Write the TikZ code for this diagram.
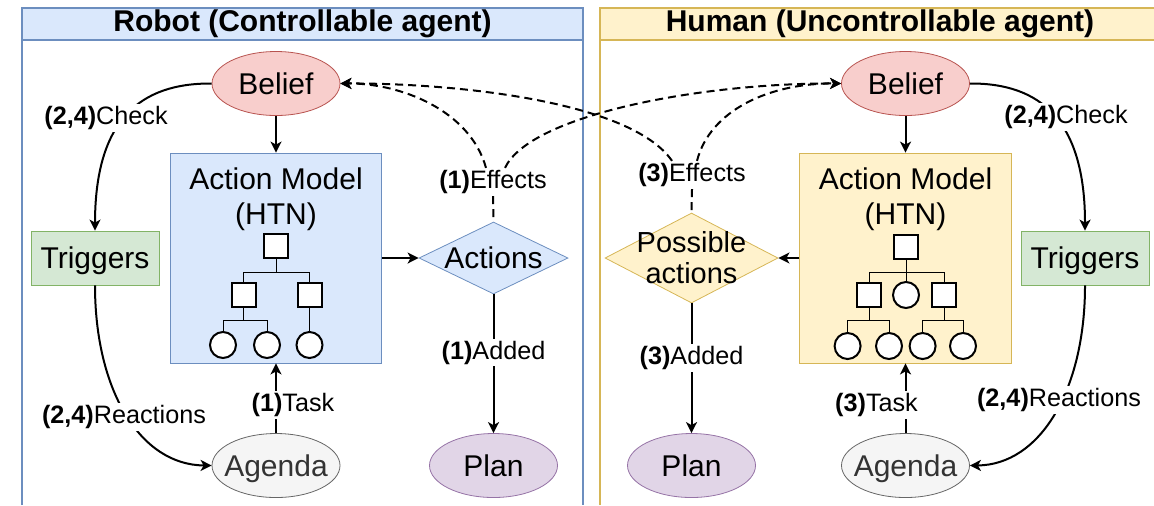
\documentclass[tikz,border=0pt]{standalone}
\usepackage{fontspec}
\setmainfont{Liberation Sans}
\usetikzlibrary{shapes.geometric, arrows.meta, positioning}

\definecolor{robotline}{HTML}{6C8EBF}
\definecolor{robotfill}{HTML}{DAE8FC}
\definecolor{humanline}{HTML}{D6B656}
\definecolor{humanfill}{HTML}{FFF2CC}
\definecolor{beliefline}{HTML}{B85450}
\definecolor{belieffill}{HTML}{F8CECC}
\definecolor{trigline}{HTML}{82B366}
\definecolor{trigfill}{HTML}{D5E8D4}
\definecolor{agendaline}{HTML}{666666}
\definecolor{agendafill}{HTML}{F5F5F5}
\definecolor{agendatext}{HTML}{333333}
\definecolor{planline}{HTML}{9673A6}
\definecolor{planfill}{HTML}{E1D5E7}

\begin{document}
\begin{tikzpicture}[
    x=0.5pt, y=0.5pt,
    every node/.style={font=\fontsize{15}{17.5}\selectfont},
    title/.style={font=\fontsize{15}{17.5}\selectfont\bfseries},
    boxtext/.style={text height=10.7pt, text depth=0pt},
    belief/.style={ellipse, boxtext, minimum width=64pt, minimum height=32pt, inner xsep=-4pt, draw=beliefline, fill=belieffill},
    trigger/.style={rectangle, boxtext, minimum width=64pt, minimum height=27pt, draw=trigline, fill=trigfill},
    agenda/.style={ellipse, boxtext, minimum width=64pt, minimum height=32pt, inner xsep=-4pt, draw=agendaline, fill=agendafill, text=agendatext},
    plan/.style={ellipse, boxtext, minimum width=64pt, minimum height=32pt, inner xsep=-4pt, draw=planline, fill=planfill},
    model/.style={rectangle, minimum width=105.75pt, minimum height=105pt},
    choice/.style={diamond, inner sep=0pt},
    lbl/.style={font=\fontsize{12.6}{14}\selectfont, fill=white, inner sep=1pt},
    arrow/.style={-{Stealth[length=5.5pt, width=5.5pt, inset=1.5pt]}, line width=1pt},
    effect/.style={arrow, dash pattern=on 4pt off 2.5pt},
    tsq/.style={rectangle, minimum size=12pt, inner sep=0pt, draw, line width=1pt, fill=white},
    tci/.style={circle, minimum size=13pt, inner sep=0pt, draw, line width=1pt, fill=white},
    tline/.style={line width=0.5pt}
]
\useasboundingbox (0,0) rectangle (1154,-505);

% the two agents
\fill[robotfill] (22,-8) rectangle (583,-40);
\draw[robotline, line width=1pt] (22,-505) |- (583,-8) -- (583,-505);
\draw[robotline, line width=1pt] (22,-40) -- (583,-40);
\node[title] (robot) at (302.5,-24) {Robot (Controllable agent)};

\fill[humanfill] (600,-8) rectangle (1154,-40);
\draw[humanline, line width=1pt] (600,-505) |- (1154,-8);
\draw[humanline, line width=1pt] (600,-40) -- (1154,-40);
\node[title] (human) at (880,-24) {Human (Uncontrollable agent)};

% robot side
\node[belief] (belL) at (276,-83.5) {Belief};
\node[model, draw=robotline, fill=robotfill] (htnL) at (276,-258) {};
\node[align=center] (htnLtxt) at (276,-199) {Action Model\\(HTN)};
\node[trigger] (trgL) at (95,-258) {Triggers};
\node[choice, minimum width=74.5pt, minimum height=36pt, draw=robotline, fill=robotfill, label=center:Actions] (actL) at (493.5,-258) {};
\node[agenda] (agL) at (276,-465.5) {Agenda};
\node[plan] (planL) at (493.5,-465.5) {Plan};

\node[tsq] (lr) at (276,-246) {};
\node[tsq] (la) at (243.5,-294.5) {};
\node[tsq] (lb) at (309.5,-294.5) {};
\node[tci] (la1) at (223,-345) {};
\node[tci] (la2) at (267,-345) {};
\node[tci] (lb1) at (309.5,-345) {};
\foreach \p/\c in {lr/la, lr/lb, la/la1, la/la2, lb/lb1}
    \draw[tline] (\p.south) -- ++(0,-13) -| (\c.north);

% human side
\node[belief] (belR) at (905.5,-83.5) {Belief};
\node[model, draw=humanline, fill=humanfill] (htnR) at (905.5,-258) {};
\node[align=center] (htnRtxt) at (905.5,-199) {Action Model\\(HTN)};
\node[trigger] (trgR) at (1085,-258) {Triggers};
\node[choice, minimum width=86.5pt, minimum height=45pt, draw=humanline, fill=humanfill,
      label={[align=center, font=\fontsize{14.5}{15.5}\selectfont]center:Possible\\actions}] (posR) at (691.5,-258) {};
\node[agenda] (agR) at (905.5,-465.5) {Agenda};
\node[plan] (planR) at (691.5,-465.5) {Plan};

\node[tsq] (rr) at (906,-246.5) {};
\node[tsq] (ra) at (869,-295) {};
\node[tci] (rc) at (906,-295) {};
\node[tsq] (rb) at (944,-295) {};
\node[tci] (ra1) at (847.6,-346) {};
\node[tci] (ra2) at (889,-346) {};
\node[tci] (rb1) at (922.6,-346) {};
\node[tci] (rb2) at (963,-346) {};
\foreach \p/\c in {rr/ra, rr/rc, rr/rb, ra/ra1, ra/ra2, rb/rb1, rb/rb2}
    \draw[tline] (\p.south) -- ++(0,-12.5) -| (\c.north);

% straight links
\draw[arrow] (belL) -- (htnL);
\draw[arrow] (htnL) -- (actL);
\draw[arrow] (agL) -- node[lbl, pos=0.4, xshift=8.5pt] {\textbf{(1)}Task} (htnL);
\draw[arrow] (actL) -- node[lbl, pos=0.42] {\textbf{(1)}Added} (planL);
\draw[arrow] (belR) -- (htnR);
\draw[arrow] (htnR) -- (posR);
\draw[arrow] (agR) -- node[lbl, pos=0.4, xshift=-14.5pt] {\textbf{(3)}Task} (htnR);
\draw[arrow] (posR) -- node[lbl, pos=0.42] {\textbf{(3)}Added} (planR);

% check / reactions loops
\draw[arrow] (belL.west) .. controls (140,-83) and (95,-120) .. (trgL.north);
\draw[arrow] (trgL.south) .. controls (95,-390) and (140,-465) .. (agL.west);
\draw[arrow] (belR.east) .. controls (1040,-83) and (1085,-120) .. (trgR.north);
\draw[arrow] (trgR.south) .. controls (1085,-390) and (1040,-465) .. (agR.east);
\node[lbl] (chkL) at (106,-118) {\textbf{(2,4)}Check};
\node[lbl] (reaL) at (124,-417) {\textbf{(2,4)}Reactions};
\node[lbl] (chkR) at (1066,-117) {\textbf{(2,4)}Check};
\node[lbl] (reaR) at (1059,-400) {\textbf{(2,4)}Reactions};

% effects go to both beliefs
\node[lbl] (effL) at (493,-182) {\textbf{(1)}Effects};
\node[lbl] (effR) at (692,-175) {\textbf{(3)}Effects};
\draw[dash pattern=on 4pt off 2.5pt, line width=1pt] (effL.south) -- (actL.north);
\draw[dash pattern=on 4pt off 2.5pt, line width=1pt] (effR.south) -- (posR.north);
\draw[effect] ([xshift=-3.5pt]effL.north) .. controls (470,-110) and (400,-83) .. (belL.east);
\draw[effect] ([xshift=6pt]effL.north) .. controls (530,-115) and (700,-83) .. (belR.west);
\draw[effect] ([xshift=2.5pt]effR.north) .. controls (710,-110) and (770,-83) .. (belR.west);
\draw[effect] ([xshift=-10pt]effR.north) .. controls (630,-100) and (450,-83) .. (belL.east);
\end{tikzpicture}
\end{document}
